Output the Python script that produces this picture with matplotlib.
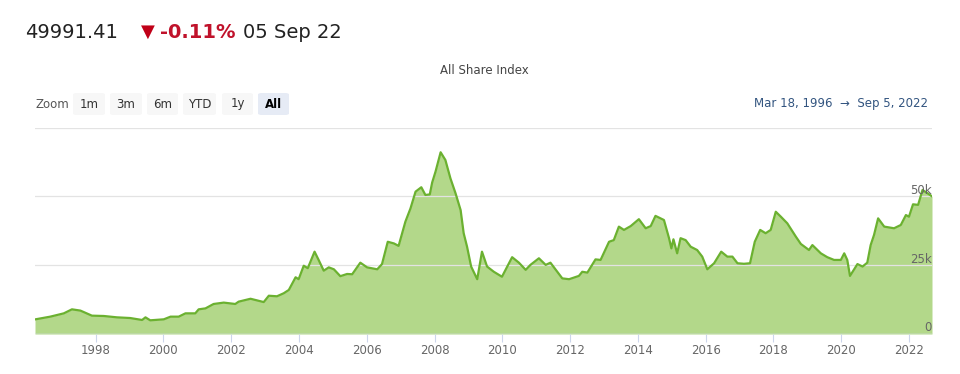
import matplotlib
matplotlib.use("Agg")
import matplotlib.pyplot as plt
from matplotlib.patches import FancyBboxPatch

# ---- data (decimal year, index value) ----
years = [1996.21, 1996.66, 1997.06, 1997.30, 1997.55, 1997.89, 1998.24, 1998.63,
         1999.02, 1999.37, 1999.47, 1999.61, 2000.01, 2000.21, 2000.45, 2000.65,
         2000.94, 2001.04, 2001.24, 2001.48, 2001.78, 2002.12, 2002.22, 2002.57,
         2002.96, 2003.11, 2003.35, 2003.55, 2003.70, 2003.90, 2003.99, 2004.14,
         2004.26, 2004.46, 2004.58, 2004.73, 2004.88, 2005.03, 2005.22, 2005.42,
         2005.57, 2005.81, 2006.01, 2006.31, 2006.45, 2006.62, 2006.80, 2006.94,
         2007.14, 2007.29, 2007.44, 2007.61, 2007.73, 2007.86, 2007.93, 2008.03,
         2008.18, 2008.32, 2008.47, 2008.62, 2008.77, 2008.86, 2008.96, 2009.08,
         2009.26, 2009.40, 2009.55, 2009.75, 2009.99, 2010.29, 2010.49, 2010.69,
         2010.83, 2011.08, 2011.28, 2011.42, 2011.77, 2011.97, 2012.26, 2012.36,
         2012.51, 2012.75, 2012.90, 2013.15, 2013.29, 2013.44, 2013.59, 2013.79,
         2014.03, 2014.23, 2014.38, 2014.52, 2014.77, 2014.92, 2014.99, 2015.05,
         2015.16, 2015.26, 2015.41, 2015.56, 2015.75, 2015.90, 2016.05, 2016.25,
         2016.46, 2016.64, 2016.79, 2016.94, 2017.13, 2017.31, 2017.45, 2017.61,
         2017.77, 2017.92, 2018.07, 2018.22, 2018.41, 2018.66, 2018.81, 2019.05,
         2019.15, 2019.40, 2019.59, 2019.79, 2019.99, 2020.09, 2020.18, 2020.26,
         2020.48, 2020.63, 2020.77, 2020.87, 2020.97, 2021.09, 2021.27, 2021.56,
         2021.76, 2021.91, 2022.00, 2022.12, 2022.27, 2022.40, 2022.55, 2022.68]
values = [5300, 6300, 7500, 8960, 8500, 6660, 6540, 6050,
          5800, 5090, 6050, 4970, 5330, 6300, 6300, 7500,
          7500, 8960, 9300, 10900, 11400, 10900, 11750, 12800,
          11600, 13900, 13700, 14800, 16000, 20600, 19900, 24800,
          23900, 29900, 26900, 23000, 24200, 23500, 21000, 21800,
          21700, 25900, 24200, 23500, 25400, 33500, 32900, 32000,
          40800, 45600, 51700, 53300, 50500, 50700, 55000, 59000,
          66000, 63200, 56500, 51100, 45000, 36600, 31700, 24500,
          19900, 29900, 24500, 22600, 20800, 27900, 25900, 23300,
          25100, 27500, 25100, 25900, 20200, 19900, 21100, 22600,
          22300, 27100, 26900, 33500, 34100, 39000, 37800, 39200,
          41700, 38400, 39200, 42900, 41400, 34800, 31100, 34400,
          29300, 34800, 34100, 31700, 30500, 28100, 23500, 25700,
          29900, 28100, 28100, 25700, 25500, 25700, 33500, 37800,
          36600, 37800, 44400, 42600, 40200, 35400, 32700, 30500,
          32300, 29300, 27900, 26900, 26900, 29300, 26900, 21100,
          25400, 24500, 25900, 32300, 36000, 42000, 39000, 38400,
          39600, 43200, 42600, 47100, 46900, 52300, 51100, 49991]

year_ticks = list(range(1998, 2023, 2))
y_ticks = [0, 25000, 50000, 75000]
y_tick_labels = ["0", "25k", "50k", ""]
zoom_buttons = ["1m", "3m", "6m", "YTD", "1y", "All"]
title = "All Share Index"
last_value = "49991.41"
change = "-0.11%"
date_label = "05 Sep 22"
range_from = "Mar 18, 1996"
range_to = "Sep 5, 2022"

W, H = 960, 374
fig = plt.figure(figsize=(W / 100, H / 100), dpi=100)
plt.rcParams['font.family'] = ['DejaVu Sans']

def fx(px):
    return px / W

def fy(py):
    return 1 - py / H

ax = fig.add_axes([fx(35), fy(334), fx(932 - 35), (334 - 127.5) / H])
ax.set_xlim(years[0], years[-1])
ax.set_ylim(0, 75000)

ax.fill_between(years, values, 0, color="#b3d88a", lw=0, zorder=1)
ax.plot(years, values, color="#6bb130", lw=1.6, zorder=3)

for v in y_ticks:
    ax.axhline(v, color="#e3e3e3", lw=0.9, zorder=2)

for s in ax.spines.values():
    s.set_visible(False)
ax.axhline(0, color="#ccd6eb", lw=1, zorder=4)

ax.set_yticks([])
ax.set_xticks(year_ticks)
ax.set_xticklabels([str(y) for y in year_ticks], color="#666666", fontsize=8.5)
ax.tick_params(axis="x", length=6, color="#ccd6eb", pad=1.5)

for v, lab in zip(y_ticks, y_tick_labels):
    if lab:
        ax.text(1.0, v + 2200, lab, transform=ax.get_yaxis_transform(),
                ha="right", va="center", fontsize=8.5, color="#666666", zorder=5)

# ---- header ----
fig.text(fx(25), fy(32), last_value, fontsize=14, color="#222222", va="center", ha="left")
fig.text(fx(141), fy(32), "\u25BC", fontsize=13, color="#c00018", va="center", ha="left")
fig.text(fx(160), fy(32), change, fontsize=14, color="#c0122b", va="center", ha="left",
         fontweight="bold")
fig.text(fx(243), fy(32), date_label, fontsize=14, color="#222222", va="center", ha="left")

fig.text(fx(484), fy(70), title, fontsize=8.5, color="#444444", va="center", ha="center")

# zoom buttons
fig.text(fx(35), fy(104), "Zoom", fontsize=8.5, color="#555555", va="center", ha="left")
btn_x = [73, 110, 147, 183, 222, 258]
btn_w = [32, 32, 31, 33, 31, 31]
for i, (lab, bx, bw) in enumerate(zip(zoom_buttons, btn_x, btn_w)):
    sel = lab == "All"
    rect = FancyBboxPatch((fx(bx), fy(115)), fx(bw), (115 - 93) / H,
                          boxstyle="round,pad=0,rounding_size=0.004",
                          transform=fig.transFigure,
                          facecolor="#e6ebf5" if sel else "#f7f7f7",
                          edgecolor="none")
    fig.patches.append(rect)
    fig.text(fx(bx + bw / 2), fy(104), lab, fontsize=8.5,
             color="#000000" if sel else "#333333",
             fontweight="bold" if sel else "normal", va="center", ha="center")

fig.text(fx(928), fy(103), f"{range_from}  \u2192  {range_to}", fontsize=8.5,
         color="#335580", va="center", ha="right")

fig.savefig("out.png", dpi=100, facecolor="white")
